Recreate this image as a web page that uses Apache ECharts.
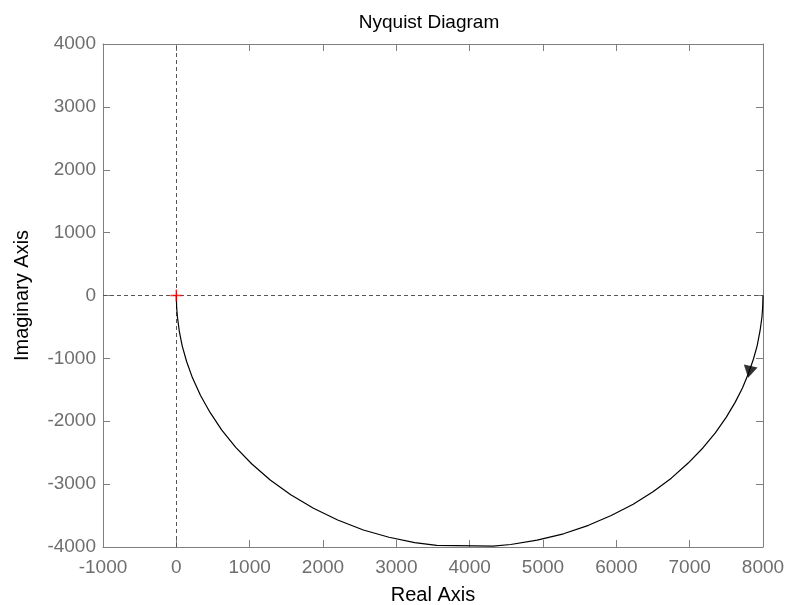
<!DOCTYPE html>
<html>
<head>
<meta charset="utf-8">
<script src="https://cdn.jsdelivr.net/npm/echarts@6/dist/echarts.min.js"></script>
<style>html,body{margin:0;padding:0;background:#fff}#c{width:787px;height:605px}</style>
</head>
<body>
<div id="c"></div>
<script>
// Nyquist curve points (real, imaginary)
var realPart = [8000, 7995, 7985, 7960, 7920, 7870, 7800, 7720, 7620, 7500, 7350, 7180, 6980, 6750, 6500, 6230, 5930, 5620, 5280, 4920, 4560, 4320, 3550, 3250, 2900, 2550, 2200, 1870, 1560, 1280, 1030, 810, 620, 460, 330, 220, 140, 80, 40, 15, 4, 0];
var imagPart = [0, -200, -350, -560, -800, -1010, -1245, -1470, -1700, -1935, -2185, -2425, -2665, -2905, -3120, -3320, -3500, -3655, -3790, -3890, -3960, -3987, -3975, -3930, -3845, -3730, -3570, -3385, -3170, -2935, -2680, -2415, -2140, -1860, -1590, -1310, -1050, -800, -565, -345, -180, 0];
var arrowPoint = [7815, -1215];
var origin = [0, 0];
var xTicks = [-1000, 0, 1000, 2000, 3000, 4000, 5000, 6000, 7000, 8000];
var yTicks = [-4000, -3000, -2000, -1000, 0, 1000, 2000, 3000, 4000];

var curve = realPart.map(function (x, i) { return [x, imagPart[i]]; });
var font = 'Liberation Sans, Arial, sans-serif';
var axisGray = '#7f7f7f';
var labelGray = '#6e6e6e';

var chart = echarts.init(document.getElementById('c'), null, {renderer: 'canvas'});
function fmt(v) { return String(v); }
function baseX(pos, show) {
  return {
    type: 'value', position: pos, min: xTicks[0], max: xTicks[xTicks.length - 1], interval: 1000,
    axisLine: {show: true, onZero: false, lineStyle: {color: axisGray, width: 1}},
    axisTick: {show: true, inside: true, length: 7, lineStyle: {color: axisGray}},
    axisLabel: {show: show, color: labelGray, fontSize: 19, fontFamily: font, margin: 11, formatter: fmt},
    splitLine: {show: false}
  };
}
function baseY(pos, show) {
  return {
    type: 'value', position: pos, min: yTicks[0], max: yTicks[yTicks.length - 1], interval: 1000,
    axisLine: {show: true, onZero: false, lineStyle: {color: axisGray, width: 1}},
    axisTick: {show: true, inside: true, length: 7, lineStyle: {color: axisGray}},
    axisLabel: {show: show, color: labelGray, fontSize: 19, fontFamily: font, margin: 7, formatter: fmt},
    splitLine: {show: false}
  };
}
var x0 = baseX('bottom', true);
x0.name = 'Real Axis'; x0.nameLocation = 'middle'; x0.nameGap = 38;
x0.nameTextStyle = {color: '#000', fontSize: 20, fontFamily: font};
var x1 = baseX('top', false);
var y0 = baseY('left', true);
y0.name = 'Imaginary Axis'; y0.nameLocation = 'middle'; y0.nameGap = 71;
y0.nameTextStyle = {color: '#000', fontSize: 20, fontFamily: font};
var y1 = baseY('right', false);

chart.setOption({
  animation: false,
  backgroundColor: '#fff',
  title: {text: 'Nyquist Diagram', left: 424, top: 8, textAlign: 'center',
    textStyle: {color: '#000', fontSize: 19, fontWeight: 'normal', fontFamily: font}},
  grid: {left: 103, right: 24, top: 44, bottom: 58, containLabel: false, outerBoundsMode: 'none'},
  xAxis: [x0, x1],
  yAxis: [y0, y1],
  series: [
    {
      type: 'line', data: curve, showSymbol: false, symbol: 'none',
      lineStyle: {color: '#000', width: 1.2}, z: 3,
      markLine: {
        silent: true, symbol: 'none', label: {show: false},
        lineStyle: {color: '#555', type: [4, 3], width: 1},
        data: [{xAxis: 0}, {yAxis: 0}], z: 1
      }
    },
    {
      type: 'scatter', data: [arrowPoint], symbol: 'triangle', symbolSize: [14, 12],
      symbolRotate: 168, itemStyle: {color: '#000'}, z: 4
    },
    {
      type: 'scatter', data: [origin], symbol: 'rect', symbolSize: [12, 1.5],
      itemStyle: {color: '#ff0000'}, z: 6
    },
    {
      type: 'scatter', data: [origin], symbol: 'rect', symbolSize: [1.5, 12],
      itemStyle: {color: '#ff0000'}, z: 6
    }
  ]
});
</script>
</body>
</html>
